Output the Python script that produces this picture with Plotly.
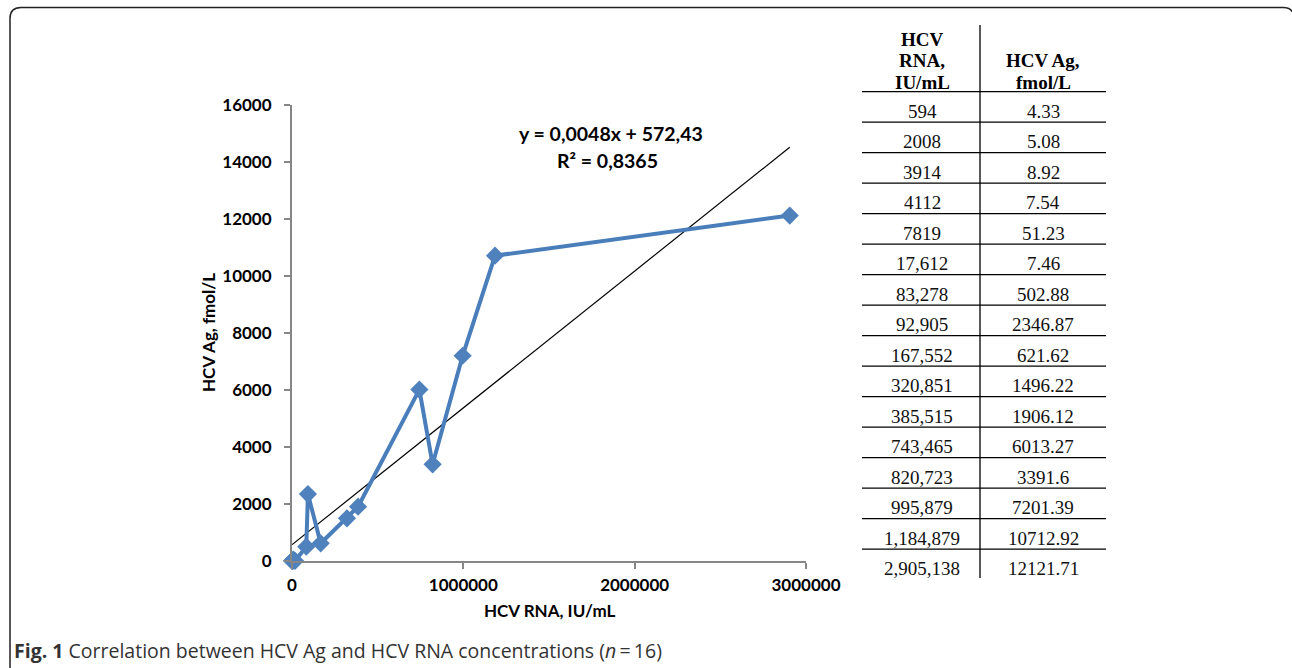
import plotly.graph_objects as go

# ---- data ----
rna = [594, 2008, 3914, 4112, 7819, 17612, 83278, 92905, 167552, 320851,
       385515, 743465, 820723, 995879, 1184879, 2905138]
ag = [4.33, 5.08, 8.92, 7.54, 51.23, 7.46, 502.88, 2346.87, 621.62, 1496.22,
      1906.12, 6013.27, 3391.6, 7201.39, 10712.92, 12121.71]
rna_labels = ["594", "2008", "3914", "4112", "7819", "17,612", "83,278", "92,905",
              "167,552", "320,851", "385,515", "743,465", "820,723", "995,879",
              "1,184,879", "2,905,138"]
ag_labels = ["4.33", "5.08", "8.92", "7.54", "51.23", "7.46", "502.88", "2346.87",
             "621.62", "1496.22", "1906.12", "6013.27", "3391.6", "7201.39",
             "10712.92", "12121.71"]
header_rna = ["HCV", "RNA,", "IU/mL"]
header_ag = ["HCV Ag,", "fmol/L"]
slope = 0.0048
intercept = 572.43
eq_text = "y = 0,0048x + 572,43"
r2_text = "R² = 0,8365"
x_ticks = [0, 1000000, 2000000, 3000000]
y_ticks = [0, 2000, 4000, 6000, 8000, 10000, 12000, 14000, 16000]
caption = "<b>Fig. 1</b> Correlation between HCV Ag and HCV RNA concentrations (<i>n</i>\u2009=\u200916)"

W, H = 1292, 668


def px(x):
    return x / W


def py(y):
    return 1 - y / H


BLUE = "#4A7EBB"
AXIS = "#868686"
TICKFONT = dict(family="Lato", size=17, color="#000000", weight="bold")

fig = go.Figure()

# trendline
tx = [min(rna), max(rna)]
ty = [slope * v + intercept for v in tx]
fig.add_trace(go.Scatter(x=tx, y=ty, mode="lines",
                         line=dict(color="#000000", width=1.2),
                         hoverinfo="skip", showlegend=False, cliponaxis=False))

# data series
fig.add_trace(go.Scatter(x=rna, y=ag, mode="lines+markers",
                         line=dict(color=BLUE, width=4),
                         marker=dict(symbol="diamond", size=14, color="#4F81BD",
                                     line=dict(width=0)),
                         showlegend=False, cliponaxis=False))

fig.update_layout(
    width=W, height=H,
    margin=dict(l=0, r=0, t=0, b=0),
    paper_bgcolor="white", plot_bgcolor="white",
    xaxis=dict(domain=[px(292), px(806)], range=[0, 3000000],
               tickvals=x_ticks, ticktext=[str(v) for v in x_ticks],
               showgrid=False, zeroline=False, showline=True,
               linecolor=AXIS, linewidth=2, ticks="outside", ticklen=6,
               tickcolor=AXIS, tickwidth=2, tickfont=TICKFONT,
               ticklabelstandoff=2, automargin=False),
    yaxis=dict(domain=[py(561), py(105)], range=[0, 16000],
               tickvals=y_ticks, ticktext=[str(v) for v in y_ticks],
               showgrid=False, zeroline=False, showline=True,
               linecolor=AXIS, linewidth=2, ticks="outside", ticklen=6,
               tickcolor=AXIS, tickwidth=2, tickfont=TICKFONT,
               ticklabelstandoff=9, automargin=False),
)

ann = []
# axis titles
ann.append(dict(text="<b>HCV RNA, IU/mL</b>", x=px(549), y=py(610), xref="paper", yref="paper",
                showarrow=False, font=dict(family="Lato", size=17, color="#000"),
                xanchor="center", yanchor="middle"))
ann.append(dict(text="<b>HCV Ag, fmol/L</b>", x=px(208), y=py(333), xref="paper", yref="paper",
                showarrow=False, textangle=-90, font=dict(family="Lato", size=17, color="#000"),
                xanchor="center", yanchor="middle"))
# equation
ann.append(dict(text="<b>" + eq_text + "</b>", x=px(611), y=py(133), xref="paper", yref="paper",
                showarrow=False, font=dict(family="Lato", size=19.5, color="#000"),
                xanchor="center", yanchor="middle"))
ann.append(dict(text="<b>" + r2_text + "</b>", x=px(607), y=py(160), xref="paper", yref="paper",
                showarrow=False, font=dict(family="Lato", size=19.5, color="#000"),
                xanchor="center", yanchor="middle"))

# table
SERIF = "Liberation Serif"
col1_x, col2_x = 922, 1043
first_line = 91.7
row_h = 30.5
for i, t in enumerate(header_rna):
    ann.append(dict(text="<b>" + t + "</b>", x=px(col1_x), y=py(39 + i * 21.5),
                    xref="paper", yref="paper", showarrow=False,
                    font=dict(family=SERIF, size=19, color="#000"),
                    xanchor="center", yanchor="middle"))
for i, t in enumerate(header_ag):
    ann.append(dict(text="<b>" + t + "</b>", x=px(col2_x), y=py(60.5 + i * 21.5),
                    xref="paper", yref="paper", showarrow=False,
                    font=dict(family=SERIF, size=19, color="#000"),
                    xanchor="center", yanchor="middle"))
shapes = []
for k, (a, b) in enumerate(zip(rna_labels, ag_labels)):
    ytop = first_line + k * row_h
    yc = ytop + 19.5
    ann.append(dict(text=a, x=px(col1_x), y=py(yc), xref="paper", yref="paper",
                    showarrow=False, font=dict(family=SERIF, size=19, color="#111"),
                    xanchor="center", yanchor="middle"))
    ann.append(dict(text=b, x=px(col2_x), y=py(yc), xref="paper", yref="paper",
                    showarrow=False, font=dict(family=SERIF, size=19, color="#111"),
                    xanchor="center", yanchor="middle"))
    shapes.append(dict(type="line", xref="paper", yref="paper",
                       x0=px(862), x1=px(1106), y0=py(ytop), y1=py(ytop),
                       line=dict(color="#000", width=1.3)))
shapes.append(dict(type="line", xref="paper", yref="paper",
                   x0=px(980), x1=px(980), y0=py(25), y1=py(578),
                   line=dict(color="#000", width=1.3)))

# caption
ann.append(dict(text=caption, x=px(12), y=py(650), xref="paper", yref="paper",
                showarrow=False, font=dict(family="Open Sans", size=19.5, color="#333"),
                xanchor="left", yanchor="middle"))

# rounded border
L, T, R, B, r = 10, 7.5, 1294, 680, 11
path = (f"M {px(L)},{py(T + r)} Q {px(L)},{py(T)} {px(L + r)},{py(T)} "
        f"L {px(R - r)},{py(T)} Q {px(R)},{py(T)} {px(R)},{py(T + r)} "
        f"L {px(R)},{py(B - r)} Q {px(R)},{py(B)} {px(R - r)},{py(B)} "
        f"L {px(L + r)},{py(B)} Q {px(L)},{py(B)} {px(L)},{py(B - r)} Z")
shapes.append(dict(type="path", path=path, xref="paper", yref="paper",
                   line=dict(color="#222", width=1.5)))

fig.update_layout(annotations=ann, shapes=shapes)
fig.write_html("out.html")
